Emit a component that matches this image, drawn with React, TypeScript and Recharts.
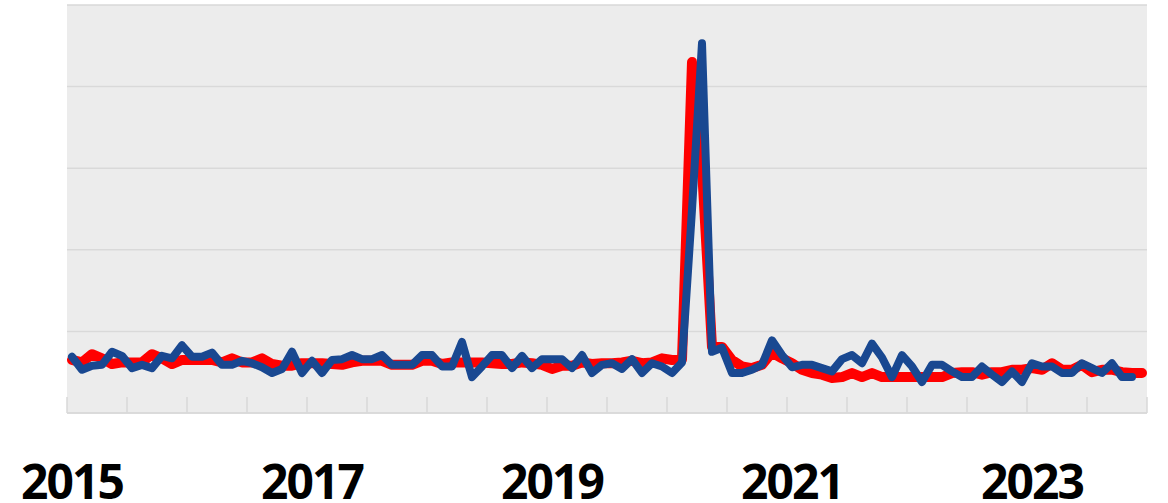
import { LineChart, Line, XAxis, YAxis, CartesianGrid } from 'recharts';

// monthly values, Jan 2015 .. Dec 2023 (red) / Nov 2023 (blue)
const RED_SERIES = [
  6.5, 6.2, 7.2, 6.7, 6.0, 6.2, 6.2, 6.2, 7.2, 6.7, 6.0, 6.5,
  6.5, 6.5, 6.5, 6.2, 6.7, 6.2, 6.2, 6.7, 6.0, 5.8, 5.8, 6.1,
  6.1, 6.1, 6.0, 5.9, 6.2, 6.4, 6.4, 6.4, 5.9, 5.9, 5.9, 6.4,
  6.4, 6.0, 6.2, 6.2, 6.2, 6.2, 6.1, 6.0, 6.0, 6.2, 6.1, 5.9,
  5.4, 5.8, 5.8, 6.2, 6.0, 6.1, 6.1, 6.2, 6.4, 6.1, 6.2, 6.7,
  6.5, 6.6, 43.0, 30.0, 8.1, 8.1, 6.5, 5.7, 5.5, 5.9, 7.4, 6.7,
  6.1, 5.3, 4.9, 4.7, 4.3, 4.4, 4.9, 4.4, 4.9, 4.4, 4.4, 4.4,
  4.4, 4.4, 4.4, 4.4, 4.9, 5.0, 5.0, 4.7, 5.0, 5.0, 5.3, 5.3,
  5.5, 5.3, 6.1, 5.3, 5.3, 5.9, 5.0, 5.3, 5.3, 5.0, 4.9, 4.9,
];

const BLUE_SERIES = [
  6.9, 5.3, 5.8, 5.9, 7.5, 7.0, 5.5, 5.9, 5.5, 7.0, 6.7, 8.3,
  6.9, 6.9, 7.4, 5.9, 5.9, 6.4, 6.1, 5.6, 4.9, 5.4, 7.5, 4.9,
  6.4, 4.9, 6.5, 6.6, 7.1, 6.6, 6.6, 7.1, 5.9, 5.9, 5.9, 7.1,
  7.1, 5.7, 5.7, 8.7, 4.4, 5.7, 7.1, 7.1, 5.5, 7.0, 5.5, 6.6,
  6.6, 6.6, 5.5, 7.1, 4.9, 5.9, 6.1, 5.4, 6.6, 4.9, 6.1, 5.7,
  4.9, 6.2, 24.9, 45.3, 7.5, 8.0, 4.9, 4.9, 5.3, 5.9, 8.9, 7.1,
  5.6, 5.9, 5.9, 5.5, 5.1, 6.6, 7.1, 6.1, 8.5, 6.8, 4.4, 7.1,
  5.7, 3.8, 5.9, 5.9, 5.1, 4.4, 4.4, 5.7, 4.7, 3.8, 5.1, 3.8,
  6.1, 5.7, 5.7, 4.9, 4.9, 6.1, 5.5, 4.9, 6.1, 4.4, 4.4,
];

// tick marks every six months (month index, boundaries between months)
const HALF_YEAR_TICKS = [
  -0.5, 5.5, 11.5, 17.5, 23.5, 29.5, 35.5, 41.5, 47.5, 53.5,
  59.5, 65.5, 71.5, 77.5, 83.5, 89.5, 95.5, 101.5, 107.5,
];
const YEAR_LABELS: Record<string, string> = {
  '-0.5': '2015',
  '23.5': '2017',
  '47.5': '2019',
  '71.5': '2021',
  '95.5': '2023',
};
const Y_TICKS = [0, 10, 20, 30, 40, 50];

const data = RED_SERIES.map((red, m) => ({ m, red, blue: BLUE_SERIES[m] }));

function HalfYearTick(props: any) {
  const { x, y, payload } = props;
  const label = YEAR_LABELS[String(payload.value)];
  return (
    <g>
      <line x1={x} x2={x} y1={y - 16} y2={y} stroke="#d9d9d9" strokeWidth={1.5} />
      {label && (
        <text
          x={x + 5}
          y={y + 86}
          textAnchor="middle"
          fontFamily="'Open Sans', sans-serif"
          fontWeight={700}
          fontSize={48}
          letterSpacing={-2}
          fill="#000"
        >
          {label}
        </text>
      )}
    </g>
  );
}

export default function App() {
  return (
    <div style={{ position: 'absolute', left: 0, top: 0, width: 1168, height: 503, background: '#fff' }}>
      <LineChart
        width={1168}
        height={503}
        data={data}
        margin={{ top: 5, right: 21, left: 67, bottom: 0 }}
      >
        <CartesianGrid vertical={false} fill="#ececec" stroke="#d9d9d9" strokeWidth={1.5} />
        <XAxis
          dataKey="m"
          type="number"
          domain={[-0.5, 107.5]}
          ticks={HALF_YEAR_TICKS}
          interval={0}
          height={90}
          tickSize={0}
          tickMargin={0}
          tickLine={false}
          axisLine={{ stroke: '#d9d9d9', strokeWidth: 1.5 }}
          tick={<HalfYearTick />}
        />
        <YAxis hide domain={[0, 50]} ticks={Y_TICKS} />
        <Line
          type="linear"
          dataKey="red"
          stroke="#ff0000"
          strokeWidth={10}
          strokeLinejoin="round"
          strokeLinecap="round"
          dot={false}
          isAnimationActive={false}
        />
        <Line
          type="linear"
          dataKey="blue"
          stroke="#194891"
          strokeWidth={8}
          strokeLinejoin="round"
          strokeLinecap="round"
          dot={false}
          isAnimationActive={false}
        />
      </LineChart>
    </div>
  );
}
